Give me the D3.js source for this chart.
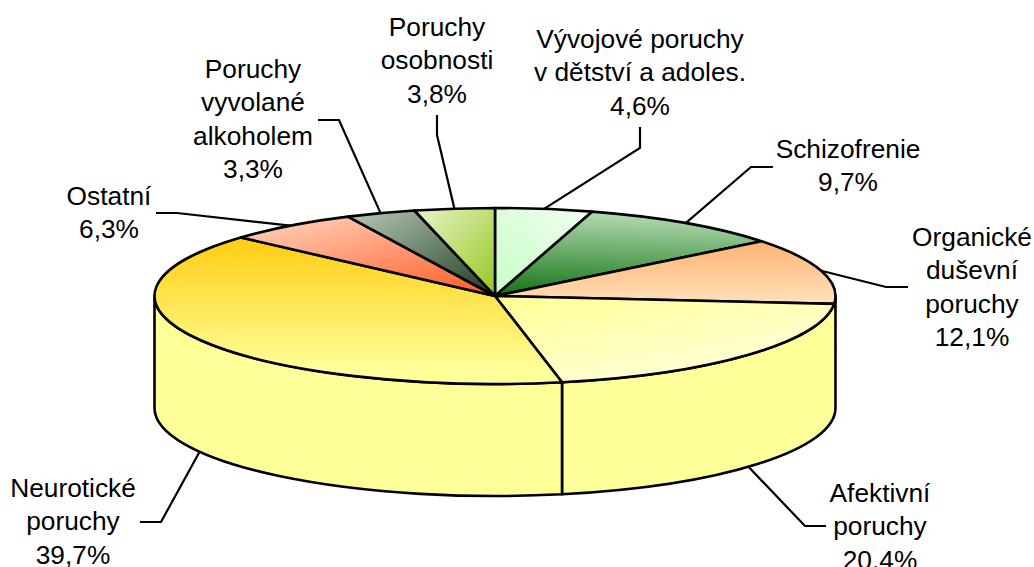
<!DOCTYPE html>
<html>
<head>
<meta charset="utf-8">
<script src="https://cdn.jsdelivr.net/npm/d3@7"></script>
<style>
html, body { margin: 0; padding: 0; background: #fff; overflow: hidden; }
svg { display: block; }
text { font-family: "Liberation Sans", Arial, sans-serif; font-size: 26.3px; fill: #000; text-anchor: middle; }
</style>
</head>
<body>
<svg id="chart" width="1034" height="567"></svg>
<script>
const categories = ["Vývojové poruchy v dětství a adoles.", "Schizofrenie", "Organické duševní poruchy", "Afektivní poruchy", "Neurotické poruchy", "Ostatní", "Poruchy vyvolané alkoholem", "Poruchy osobnosti"];
const shares = [4.6, 9.7, 12.1, 20.4, 39.7, 6.3, 3.3, 3.8];
const shareLabels = ["4,6%", "9,7%", "12,1%", "20,4%", "39,7%", "6,3%", "3,3%", "3,8%"];

// label lines, wrapped the same way as the picture
const labelLines = [
    ["Vývojové poruchy", "v dětství a adoles."],
    ["Schizofrenie"],
    ["Organické", "duševní", "poruchy"],
    ["Afektivní", "poruchy"],
    ["Neurotické", "poruchy"],
    ["Ostatní"],
    ["Poruchy", "vyvolané", "alkoholem"],
    ["Poruchy", "osobnosti"]
];
const labelX = [640, 848, 972, 880, 73, 109, 253, 437];
const labelY = [48, 158, 246, 502, 497, 205, 78, 36];
const lineGap = 33.3;

// leader start is on the label side: [x, y] then elbow, the rim end comes from the slice angle
const leaderStart = [[640, 127], [773, 167], [908, 287], [826, 526], [140, 522], [156, 213], [318, 120], [437, 115]];
const leaderElbow = [[640, 148], [751, 167], [886, 287], [805, 526], [161, 522], [177, 213], [339, 120], [437, 135]];

// [start colour, end colour, x1, y1, x2, y2] in slice bounding box units
const sliceFill = [
    ["#c6fcc6", "#f2fff2", 0, 1, 1, 0],
    ["#137313", "#b0d8b0", 0, 1, 0.1, 0],
    ["#ffb070", "#ffe0b8", 0.3, 0, 0.4, 1],
    ["#ffff99", "#ffffe0", 0.1, 0, 0.8, 1],
    ["#ffcc11", "#ffff99", 0, 0, 0, 0.9],
    ["#ffd2ba", "#ff5f2a", 0.1, 0, 0.9, 1],
    ["#b8cbb8", "#1f3a1f", 0, 0, 1, 1],
    ["#eaf4cc", "#93c81e", 0, 0, 1, 1]
];
const sideColor = "#ffff99";

const cx = 495, cy = 296, rx = 340.5, ry = 88, depth = 112;

const x = d3.scaleLinear().domain([-1, 1]).range([cx - rx, cx + rx]);
const y = d3.scaleLinear().domain([-1, 1]).range([cy - ry, cy + ry]);

// angle is clockwise from the top of the pie
const rimX = a => x(Math.sin(a));
const rimY = a => y(-Math.cos(a));

const svg = d3.select("#chart");
const defs = svg.append("defs");

const slices = d3.pie().sort(null).value(d => d)(shares);

sliceFill.forEach(function (f, i) {
    const g = defs.append("linearGradient").attr("id", "slice" + i)
        .attr("x1", f[2]).attr("y1", f[3]).attr("x2", f[4]).attr("y2", f[5]);
    g.append("stop").attr("offset", 0).attr("stop-color", f[0]);
    g.append("stop").attr("offset", 1).attr("stop-color", f[1]);
});

const stroke = "#000";
const strokeW = 2.6;

// side wall: front half of the ellipse, moved down by depth
function wallPath(a0, a1) {
    return "M" + rimX(a0) + "," + rimY(a0)
        + "A" + rx + "," + ry + " 0 0 1 " + rimX(a1) + "," + rimY(a1)
        + "L" + rimX(a1) + "," + (rimY(a1) + depth)
        + "A" + rx + "," + ry + " 0 0 0 " + rimX(a0) + "," + (rimY(a0) + depth) + "Z";
}
const afektEnd = slices[3].endAngle;
[[Math.PI / 2, afektEnd], [afektEnd, Math.PI * 1.5]].forEach(function (w) {
    svg.append("path").attr("d", wallPath(w[0], w[1]))
        .attr("fill", sideColor).attr("stroke", stroke).attr("stroke-width", strokeW).attr("stroke-linejoin", "round");
});

// top face
svg.selectAll("path.slice").data(slices).enter().append("path")
    .attr("class", "slice")
    .attr("d", function (d) {
        const large = d.endAngle - d.startAngle > Math.PI ? 1 : 0;
        return "M" + cx + "," + cy
            + "L" + rimX(d.startAngle) + "," + rimY(d.startAngle)
            + "A" + rx + "," + ry + " 0 " + large + " 1 " + rimX(d.endAngle) + "," + rimY(d.endAngle) + "Z";
    })
    .attr("fill", (d, i) => "url(#slice" + i + ")")
    .attr("stroke", stroke).attr("stroke-width", strokeW).attr("stroke-linejoin", "round");

// leader lines, ending on the rim at mid slice
const line = d3.line();
svg.selectAll("path.leader").data(slices).enter().append("path")
    .attr("class", "leader")
    .attr("d", function (d, i) {
        const mid = (d.startAngle + d.endAngle) / 2;
        const front = Math.cos(mid) < 0 && i !== 2;
        const end = [rimX(mid), rimY(mid) + (front ? depth : 0)];
        return line([leaderStart[i], leaderElbow[i], end]);
    })
    .attr("fill", "none").attr("stroke", stroke).attr("stroke-width", 2.2);

// labels
categories.forEach(function (c, i) {
    const lines = labelLines[i].concat([shareLabels[i]]);
    const t = svg.append("text").attr("class", "label");
    lines.forEach(function (l, j) {
        t.append("tspan").attr("x", labelX[i]).attr("y", labelY[i] + j * lineGap).text(l);
    });
});
</script>
</body>
</html>
